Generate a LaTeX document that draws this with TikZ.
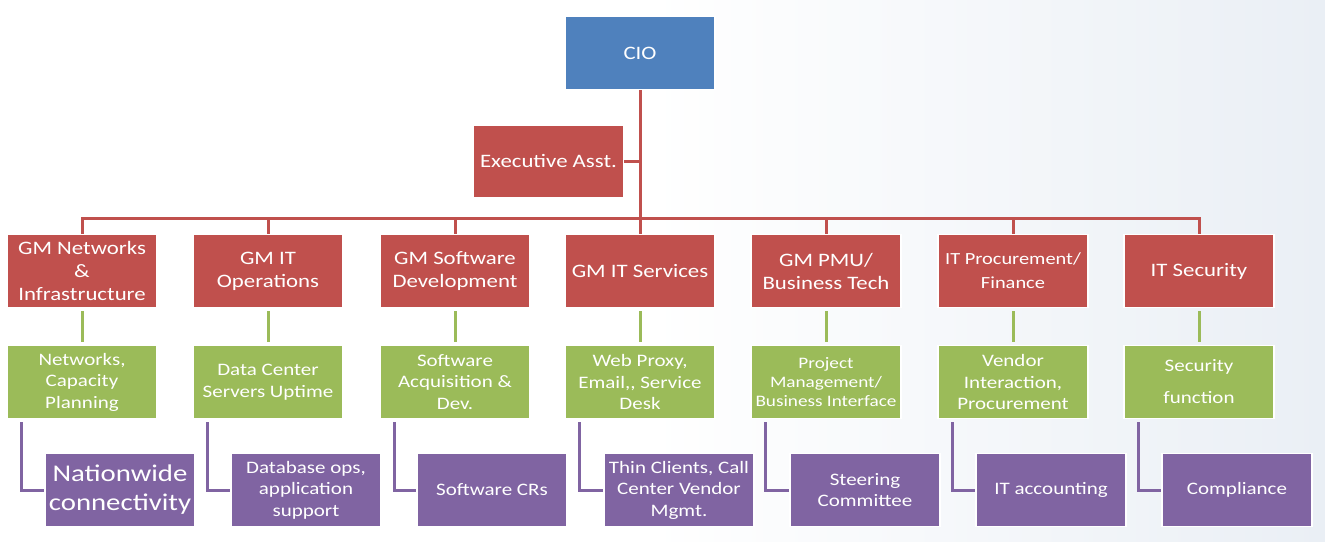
\documentclass[tikz,border=0pt]{standalone}
\usepackage{fontspec}
\setmainfont{Carlito}[FakeStretch=1.2]
\usetikzlibrary{calc}
\definecolor{cblue}{HTML}{4F81BD}
\definecolor{cred}{HTML}{C0504D}
\definecolor{cgreen}{HTML}{9BBB59}
\definecolor{cpurple}{HTML}{8064A2}
\definecolor{bgtint}{HTML}{EAEFF5}
\tikzset{
  box/.style={draw=white, line width=1.5pt, minimum width=150pt, minimum height=73pt, inner sep=1pt, align=center, text=white, font=\fontsize{19}{23}\selectfont},
  bluebox/.style={box, fill=cblue},
  redbox/.style={box, fill=cred},
  greenbox/.style={box, fill=cgreen, font=\fontsize{17.5}{21.5}\selectfont},
  purplebox/.style={box, fill=cpurple, font=\fontsize{17.5}{21.5}\selectfont},
  redline/.style={draw=cred, line width=3pt},
  greenline/.style={draw=cgreen, line width=3pt},
  purpleline/.style={draw=cpurple, line width=3pt},
}
\begin{document}
\begin{tikzpicture}[x=1pt,y=-1pt]
\useasboundingbox (0,0) rectangle (1325,541);
\fill[white] (0,0) rectangle (1325,541);
\shade[left color=white, right color=bgtint] (650,0) rectangle (1325,541);

\node[bluebox] (cio) at (640,53) {CIO};
\node[redbox] (ea) at (548.5,161.5) {Executive Asst.};
\coordinate (bar) at (640,218);

\node[redbox] (r1) at (82,271) {GM Networks\\\&\\Infrastructure};
\node[redbox] (r2) at (268,271) {GM IT\\Operations};
\node[redbox] (r3) at (455,271) {GM Software\\Development};
\node[redbox] (r4) at (640,271) {GM IT Services};
\node[redbox] (r5) at (826,271) {GM PMU/\\Business Tech};
\node[redbox, font=\fontsize{17}{24}\selectfont] (r6) at (1013,271) {IT Procurement/\\Finance};
\node[redbox] (r7) at (1199,271) {IT Security};

\node[greenbox] (g1) at (82,382) {Networks,\\Capacity\\Planning};
\node[greenbox] (g2) at (268,382) {Data Center\\Servers Uptime};
\node[greenbox] (g3) at (455,382) {Software\\Acquisition \&\\Dev.};
\node[greenbox] (g4) at (640,382) {Web Proxy,\\Email,{},{} Service\\Desk};
\node[greenbox, font=\fontsize{16}{19}\selectfont] (g5) at (826,382) {Project\\Management/\\Business Interface};
\node[greenbox] (g6) at (1013,382) {Vendor\\Interaction,\\Procurement};
\node[greenbox, font=\fontsize{17.5}{32}\selectfont] (g7) at (1199,382) {Security\\function};

\node[purplebox, font=\fontsize{24}{29}\selectfont] (p1) at (120,490) {Nationwide\\connectivity};
\node[purplebox] (p2) at (306,490) {Database ops,\\application\\support};
\node[purplebox] (p3) at (492,490) {Software CRs};
\node[purplebox] (p4) at (679,490) {Thin Clients, Call\\Center Vendor\\Mgmt.};
\node[purplebox] (p5) at (865,490) {Steering\\Committee};
\node[purplebox] (p6) at (1051,490) {IT accounting};
\node[purplebox] (p7) at (1237,490) {Compliance};

% CIO and executive assistant
\draw[redline] (cio.south) -- (r4.north);
\draw[redline] (ea.east) -- (ea.east -| cio.south);
% horizontal bar
\draw[redline] (r1.north) -- (r1.north |- bar) -- (r7.north |- bar) -- (r7.north);
\foreach \i in {2,3,5,6}{
  \draw[redline] (r\i.north) -- (r\i.north |- bar);
}
\foreach \i in {1,...,7}{
  \draw[greenline] ($(r\i.south)+(0,3)$) -- ($(g\i.north)+(0,-3)$);
  \draw[purpleline] ($(g\i.south west)+(15,3)$) |- (p\i.west);
}
\end{tikzpicture}
\end{document}
